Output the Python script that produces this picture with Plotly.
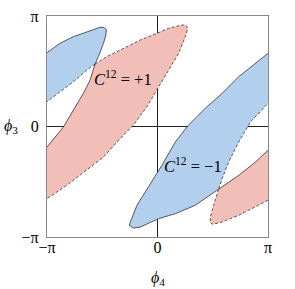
import plotly.graph_objects as go

# All coordinates in units of pi: (phi4, phi3)
# Upper-left blue region
blueA_solid_x = [-1.0, -0.882, -0.761, -0.640, -0.519, -0.483, -0.462, -0.469, -0.489, -0.535, -0.565]
blueA_solid_y = [0.668, 0.753, 0.813, 0.858, 0.898, 0.896, 0.873, 0.819, 0.753, 0.632, 0.565]
blueA_dash_x = [-0.565, -0.640, -0.761, -0.882, -1.0]
blueA_dash_y = [0.565, 0.511, 0.405, 0.315, 0.224]

# Upper red region (C12 = +1)
redB_solid_x = [-1.0, -0.852, -0.761, -0.671, -0.610, -0.565]
redB_solid_y = [-0.186, -0.005, 0.149, 0.300, 0.421, 0.565]
redB_dash_x = [-0.565, -0.459, -0.277, -0.156, -0.005, 0.100, 0.222, 0.262, 0.274, 0.252, 0.191,
               0.100, 0.010, -0.096, -0.217, -0.338, -0.489, -0.671, -0.821, -1.0]
redB_dash_y = [0.565, 0.632, 0.722, 0.783, 0.843, 0.889, 0.919, 0.912, 0.885, 0.813, 0.662,
               0.511, 0.360, 0.179, 0.014, -0.110, -0.276, -0.412, -0.532, -0.653]

# Lower-right blue region (C12 = -1)
blueC_solid_x = [1.0, 0.887, 0.735, 0.585, 0.433, 0.282, 0.161, 0.040, -0.096, -0.186, -0.240,
                 -0.256, -0.217, -0.156, 0.010, 0.161, 0.342, 0.554]
blueC_solid_y = [0.662, 0.572, 0.451, 0.300, 0.165, 0.014, -0.140, -0.351, -0.563, -0.713, -0.850,
                 -0.895, -0.919, -0.910, -0.834, -0.789, -0.713, -0.563]
blueC_dash_x = [0.554, 0.585, 0.644, 0.735, 0.841, 0.917, 1.0]
blueC_dash_y = [-0.563, -0.472, -0.321, -0.140, 0.041, 0.119, 0.210]

# Lower-right red region
redD_solid_x = [0.554, 0.735, 0.887, 1.0]
redD_solid_y = [-0.563, -0.442, -0.321, -0.215]
redD_dash_x = [1.0, 0.887, 0.735, 0.585, 0.500, 0.478, 0.478, 0.508, 0.554]
redD_dash_y = [-0.668, -0.729, -0.804, -0.864, -0.885, -0.870, -0.819, -0.713, -0.563]

tick_vals = [-1, 0, 1]
tick_text = ["−π", "0", "π"]

labels = ["<i>C</i><sup>12</sup> = +1", "<i>C</i><sup>12</sup> = −1"]
label_x = [-0.311, 0.320]
label_y = [0.435, -0.351]

BLUE = "#b2cfee"
RED = "#f1bfb7"
EDGE = "#333333"
FONT = "'Times New Roman', 'Liberation Serif', serif"

fig = go.Figure()

def fill(xs, ys, color):
    fig.add_trace(go.Scatter(x=xs, y=ys, mode="lines", fill="toself", fillcolor=color,
                             line=dict(width=0), hoverinfo="skip", showlegend=False))

def edge(xs, ys, dash):
    fig.add_trace(go.Scatter(x=xs, y=ys, mode="lines",
                             line=dict(color=EDGE, width=0.8, dash=dash),
                             hoverinfo="skip", showlegend=False))

fill(blueA_solid_x + blueA_dash_x, blueA_solid_y + blueA_dash_y, BLUE)
fill(redB_solid_x + redB_dash_x, redB_solid_y + redB_dash_y, RED)
fill(blueC_solid_x + blueC_dash_x, blueC_solid_y + blueC_dash_y, BLUE)
fill(redD_solid_x + redD_dash_x, redD_solid_y + redD_dash_y, RED)

edge(blueA_solid_x, blueA_solid_y, "solid")
edge(redB_solid_x, redB_solid_y, "solid")
edge(blueA_dash_x, blueA_dash_y, "3px,2px")
edge(redB_dash_x, redB_dash_y, "3px,2px")
edge(blueC_solid_x + redD_solid_x[1:], blueC_solid_y + redD_solid_y[1:], "solid")
edge(blueC_dash_x, blueC_dash_y, "3px,2px")
edge(redD_dash_x, redD_dash_y, "3px,2px")

for t, x, y in zip(labels, label_x, label_y):
    fig.add_annotation(x=x, y=y, text=t, showarrow=False, xanchor="center", yanchor="middle",
                       font=dict(family=FONT, size=16.5, color="black"))

fig.add_annotation(xref="paper", yref="paper", x=-0.163, y=0.502, text="<i>ϕ</i><sub>3</sub>",
                   showarrow=False, xanchor="center", yanchor="middle",
                   font=dict(family=FONT, size=16, color="black"))
fig.add_annotation(xref="paper", yref="paper", x=0.5, y=-0.19, text="<i>ϕ</i><sub>4</sub>",
                   showarrow=False, xanchor="center", yanchor="middle",
                   font=dict(family=FONT, size=16, color="black"))

axis_common = dict(range=[-1, 1], tickvals=tick_vals, ticktext=tick_text, showgrid=False,
                   zeroline=True, zerolinecolor="#222222", zerolinewidth=0.8,
                   showline=True, mirror=True, linecolor="#888888", linewidth=1.3,
                   ticks="", layer="above traces", automargin=False,
                   tickfont=dict(family=FONT, size=16, color="black"))
fig.update_xaxes(**axis_common, ticklabelstandoff=-4)
fig.update_yaxes(**axis_common, ticklabelstandoff=4)

fig.update_layout(width=295, height=289, margin=dict(l=47, r=27, t=16, b=52),
                  plot_bgcolor="white", paper_bgcolor="white",
                  font=dict(family=FONT))

fig.write_html("out.html", config={"displayModeBar": False},
               post_script="document.body.style.margin='0px';")
